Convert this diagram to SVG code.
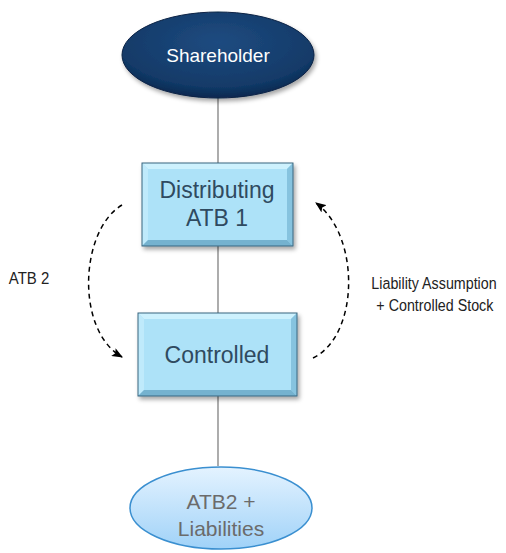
<svg xmlns="http://www.w3.org/2000/svg" width="506" height="553" viewBox="0 0 506 553">
<defs>
<style>
.conn{stroke:#808080;stroke-width:1.3;fill:none}
.arc{stroke:#000;stroke-width:1.5;fill:none;stroke-dasharray:5 4}
.box-text{font-family:"Liberation Sans",Arial,sans-serif;font-size:23px;fill:#2f4a60;text-anchor:middle}
.lbl{font-family:"Liberation Sans",Arial,sans-serif;font-size:17px;fill:#222;text-anchor:middle}
.edge{stroke:#3a6680;stroke-width:1}
</style>
<radialGradient id="navy" cx="0.5" cy="0.35" r="0.65">
<stop offset="0" stop-color="#1f4b80"/>
<stop offset="0.8" stop-color="#123a68"/>
<stop offset="1" stop-color="#0a2850"/>
</radialGradient>
<linearGradient id="sky" x1="0" y1="0" x2="0" y2="1">
<stop offset="0" stop-color="#e4f3ff"/>
<stop offset="1" stop-color="#a0d2f8"/>
</linearGradient>
<filter id="sh" x="-10%" y="-10%" width="130%" height="130%">
<feDropShadow dx="2" dy="3" stdDeviation="2" flood-color="#000" flood-opacity="0.35"/>
</filter>
<marker id="ah" viewBox="0 0 10 8" refX="9" refY="4" markerWidth="11" markerHeight="9" markerUnits="userSpaceOnUse" orient="auto">
<path d="M0,0 L10,4 L0,8 L2,4 z" fill="#000"/>
</marker>
</defs>

<g id="connectors">
<line class="conn" x1="218" y1="98" x2="218" y2="163"/>
<line class="conn" x1="218" y1="246" x2="218" y2="313"/>
<line class="conn" x1="218" y1="396" x2="218" y2="466"/>
<path class="arc" d="M122,205 C80,230 75,330 122,357" marker-end="url(#ah)"/>
<path class="arc" d="M313,358 C360,335 360,235 316,203" marker-end="url(#ah)"/>
</g>

<g id="shareholder">
<ellipse cx="218" cy="55" rx="96" ry="43" fill="url(#navy)" stroke="#0a2345" stroke-width="1" filter="url(#sh)"/>
<text x="218" y="62" font-family="Liberation Sans,Arial,sans-serif" font-size="19" fill="#fff" text-anchor="middle">Shareholder</text>
</g>

<g id="distributing">
<g filter="url(#sh)">
<rect x="142" y="163" width="151" height="83" fill="#a9def5"/>
<polygon points="142,163 293,163 287,169 148,169" fill="#cdf1fd"/>
<polygon points="142,163 148,169 148,240 142,246" fill="#bfeafb"/>
<polygon points="293,163 293,246 287,240 287,169" fill="#86c3df"/>
<polygon points="142,246 148,240 287,240 293,246" fill="#74b2cf"/>
<rect x="148" y="169" width="139" height="71" fill="#ade2f8"/>
<rect x="142" y="163" width="151" height="83" fill="none" class="edge"/>
</g>
<text class="box-text" x="217" y="198">Distributing</text>
<text class="box-text" x="217" y="226">ATB 1</text>
</g>

<g id="controlled">
<g filter="url(#sh)">
<rect x="138" y="313" width="159" height="83" fill="#a9def5"/>
<polygon points="138,313 297,313 291,319 144,319" fill="#cdf1fd"/>
<polygon points="138,313 144,319 144,390 138,396" fill="#bfeafb"/>
<polygon points="297,313 297,396 291,390 291,319" fill="#86c3df"/>
<polygon points="138,396 144,390 291,390 297,396" fill="#74b2cf"/>
<rect x="144" y="319" width="147" height="71" fill="#ade2f8"/>
<rect x="138" y="313" width="159" height="83" fill="none" class="edge"/>
</g>
<text class="box-text" x="217" y="363">Controlled</text>
</g>

<g id="atb2-liabilities">
<ellipse cx="221" cy="508" rx="91" ry="41" fill="url(#sky)" stroke="#3a8fd0" stroke-width="1.5"/>
<text x="221" y="509" font-family="Liberation Sans,Arial,sans-serif" font-size="21" fill="#6b6b6b" text-anchor="middle">ATB2 +</text>
<text x="221" y="536" font-family="Liberation Sans,Arial,sans-serif" font-size="21" fill="#6b6b6b" text-anchor="middle">Liabilities</text>
</g>

<g id="labels">
<g transform="translate(29,0) scale(0.88,1)">
<text class="lbl" x="0" y="284">ATB 2</text>
</g>
<g transform="translate(434,0) scale(0.84,1)">
<text class="lbl" x="0" y="289">Liability Assumption</text>
<text class="lbl" x="1" y="311">+ Controlled Stock</text>
</g>
</g>
</svg>
